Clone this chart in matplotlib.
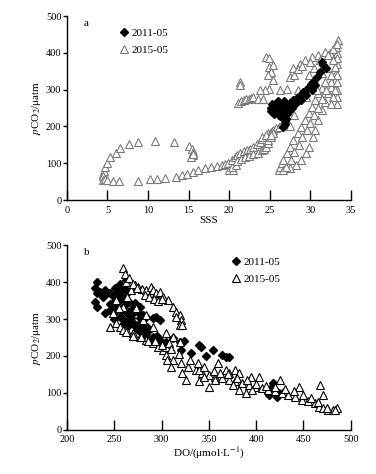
import matplotlib
matplotlib.use("Agg")
import matplotlib.pyplot as plt
from matplotlib.lines import Line2D

plt.rcParams["font.family"] = ["Liberation Serif", "DejaVu Serif"]
plt.rcParams["mathtext.fontset"] = "stix"

# ---------------------------------------------------------------------------
# Panel a: SSS vs pCO2
# ---------------------------------------------------------------------------
sss_2015 = [
    4.5, 4.6, 4.5, 4.7, 4.9, 5.3, 6.0, 6.6, 7.6, 8.8, 10.9, 13.2, 15.0, 15.4, 15.6, 15.5, 15.3, 15.6,
    4.5, 4.7, 5.0, 5.7, 6.4, 8.8, 10.3, 11.1, 12.1, 13.5, 14.2, 14.8, 15.6, 16.2, 17.0, 17.8, 18.5,
    19.1, 19.5, 19.9, 20.0, 20.5, 20.3, 20.8,
    20.4, 20.7, 21.0, 21.3, 21.8, 22.2, 22.6, 23.0, 23.4, 23.8, 24.1, 24.4, 24.8, 25.1, 25.4, 25.8,
    26.1, 26.5,
    21.0, 21.5, 22.0, 22.5, 23.0, 23.6, 24.0, 24.3, 24.6, 24.8, 24.8, 25.1, 25.4, 24.0, 24.6, 25.2,
    26.1, 26.3, 26.5, 26.7, 27.1, 27.5, 27.9, 28.5, 28.9, 29.3, 29.8, 30.2, 30.6, 31.0, 31.4,
    26.7, 27.5, 28.3, 28.9, 29.5, 29.9, 30.4, 30.6, 31.0, 31.4, 31.8, 32.2, 32.6, 33.0, 33.2,
    27.0, 27.6, 28.0, 28.6, 29.0, 29.6, 30.0, 30.5, 31.0, 31.5, 32.0, 32.5,
    33.3, 33.3, 33.3, 33.3, 33.3, 33.3, 33.3, 33.4, 33.1, 33.3, 33.2, 32.8, 32.4, 31.8, 31.0, 30.2,
    29.3, 28.7, 27.9, 27.5, 27.1, 26.3, 32.0, 32.5, 31.5, 30.5, 29.8,
    24.6, 24.9, 24.9, 25.4, 25.2, 24.8, 25.4, 24.9, 24.4, 23.8, 21.3, 21.3,
    21.1, 21.4, 21.8, 22.1, 22.4, 22.7, 23.0, 23.6, 24.2,
    28.0, 28.5, 29.0, 30.0, 31.2, 32.2, 32.8, 33.3, 33.0, 32.8, 32.5, 31.8, 30.8, 29.5, 28.5, 28.0,
    27.5,
]
pco2_2015_a = [
    72, 80, 65, 90, 100, 118, 129, 142, 151, 158, 161, 157, 147, 140, 130, 122, 118, 126,
    54, 58, 54, 53, 53, 53, 57, 57, 59, 63, 68, 72, 77, 82, 86, 91, 93,
    95, 97, 100, 82, 82, 90, 95,
    109, 118, 122, 127, 132, 136, 140, 145, 152, 159, 165, 172, 181, 186, 190, 195,
    199, 206,
    105, 112, 118, 120, 124, 128, 135, 140, 145, 155, 163, 172, 181, 172, 178, 176,
    82, 91, 100, 109, 127, 145, 163, 181, 199, 217, 236, 254, 272, 290, 305,
    82, 86, 95, 109, 127, 145, 172, 190, 217, 245, 267, 290, 308, 326, 344,
    90, 110, 130, 150, 170, 190, 210, 230, 250, 275, 300, 320,
    260, 280, 300, 320, 340, 371, 399, 435, 362, 385, 415, 380, 399, 403, 394, 390,
    380, 371, 358, 335, 303, 299, 360, 340, 345, 360, 340,
    390, 385, 362, 367, 349, 340, 326, 303, 299, 299, 322, 312,
    263, 268, 272, 275, 276, 278, 279, 276, 274,
    340, 355, 365, 375, 380, 395, 410, 425, 300, 280, 260, 320, 300, 280, 300, 230,
    200,
]
sss_2011 = [
    25.2, 25.4, 25.6, 25.9, 26.0, 26.3, 26.5, 26.7, 26.9, 27.0, 27.2, 27.5, 27.9, 28.2, 28.5, 28.8,
    29.1, 29.5, 29.8, 30.1, 30.4, 30.8, 31.2, 31.6, 31.4, 32.0, 26.7, 26.9, 26.7, 26.1, 25.6, 27.1,
    27.7, 28.3, 28.9, 29.5, 30.2, 30.6, 26.4, 26.0, 25.8,
    25.3, 25.5, 25.8, 26.2, 26.6, 27.3, 27.6, 26.8, 25.1, 26.3, 27.0, 26.9,
]
pco2_2011_a = [
    250, 245, 255, 254, 240, 258, 245, 254, 262, 250, 240, 263, 272, 268, 281, 285,
    294, 300, 308, 315, 322, 335, 349, 367, 376, 360, 199, 208, 226, 231, 240, 235,
    249, 263, 272, 285, 299, 312, 262, 268, 262,
    260, 235, 248, 250, 238, 255, 258, 270, 242, 228, 220, 215,
]

# ---------------------------------------------------------------------------
# Panel b: DO vs pCO2
# ---------------------------------------------------------------------------
do_2011 = [
    231.5, 229.7, 231.5, 229.7, 231.5, 235, 240, 242, 238.5, 240, 245.5, 250.7, 256, 259, 263, 270,
    273, 277, 284, 291, 298, 305, 312, 319, 324, 320.6, 331, 340, 341.6, 347, 354, 364, 368, 371,
    250.7, 254, 258, 261, 266, 272, 277, 270, 263, 258, 268, 277, 284, 291, 298, 294, 285, 287,
    256, 262, 266, 270, 275, 280, 252, 248,
    410, 416.8, 420, 424, 414, 422, 418,
    245, 250, 255, 260, 265, 270, 275, 280, 260, 264, 268, 245, 250, 260, 265, 275, 280, 285, 290,
    295,
]
pco2_2011_b = [
    401, 383, 369, 347, 333, 374, 378, 369, 360, 315, 324, 320, 306, 300, 293, 288,
    279, 270, 261, 252, 243, 239, 248, 239, 241, 216, 207, 230, 225, 200, 216, 203, 198, 196,
    383, 374, 360, 351, 347, 342, 333, 315, 315, 324, 302, 302, 306, 302, 297, 306, 279, 270,
    396, 405, 380, 290, 285, 275, 330, 340,
    108, 117, 108, 99, 95, 90, 126,
    370, 360, 350, 335, 320, 330, 320, 310, 380, 370, 390, 340, 300, 290, 280, 270, 260, 250, 245,
    255,
]
do_2015 = [
    259.4, 261, 265, 268, 272, 275, 279, 284, 289, 291, 294, 298, 301, 307, 312, 315, 319, 320.6,
    319, 322, 315,
    252, 256, 259, 264, 270, 277, 284, 291, 296, 301, 305, 312, 320.6, 327.6, 336, 343, 350, 357,
    364, 371, 378, 385, 392, 399, 406, 413, 420, 427, 434, 441, 448, 455, 462, 466, 471, 476, 481,
    485,
    305, 306, 310, 322, 326, 340, 340, 345, 350, 357, 360, 368, 371, 378, 382, 394, 403, 425.5, 445,
    467.8, 471, 375, 382, 389, 396,
    249, 245.5, 252, 259, 263, 268, 273, 280.4, 284, 291, 305, 312, 308, 319,
    262, 266, 270, 274, 282, 287, 292, 296, 300, 255, 262, 270, 278, 286, 293, 300, 310, 318, 330,
    338, 345, 355, 362, 370, 380, 390, 400, 410, 420, 430, 440, 450, 458, 465, 475, 483,
]
pco2_2015_b = [
    437, 423, 405, 396, 392, 387, 380, 378, 387, 378, 369, 374, 360, 351, 333, 320, 311, 297,
    284, 284, 306,
    288, 279, 270, 268, 261, 252, 243, 234, 225, 216, 203, 189, 180, 171, 162, 153, 149, 144,
    140, 135, 131, 126, 122, 117, 113, 108, 104, 99, 95, 90, 81, 77, 72, 63, 59, 54, 54,
    59,
    225, 189, 171, 153, 135, 131, 162, 144, 117, 135, 180, 162, 153, 162, 153, 144, 144, 135, 117,
    122, 95, 122, 108, 99, 108,
    315, 279, 351, 333, 360, 378, 329, 297, 311, 279, 261, 252, 234, 239,
    400, 410, 395, 385, 365, 360, 355, 350, 355, 330, 265, 255, 250, 240, 240, 230, 220, 205, 190,
    180, 170, 160, 155, 150, 140, 135, 125, 120, 115, 110, 105, 95, 85, 75, 60, 55,
]

fig = plt.figure(figsize=(3.76, 4.74), dpi=100)
ax_a = fig.add_axes([0.178, 0.578, 0.755, 0.388])
ax_b = fig.add_axes([0.178, 0.093, 0.755, 0.390])

tri_kw = dict(marker="^", linestyle="none", markersize=5.2, markerfacecolor="white",
              markeredgewidth=0.8)
dia_kw = dict(marker="D", linestyle="none", markersize=3.8, color="black")

# panel a: triangles underneath, diamonds on top
ax_a.plot(sss_2015, pco2_2015_a, markeredgecolor="#7a7a7a", **tri_kw)
ax_a.plot(sss_2011, pco2_2011_a, **dia_kw)
ax_a.set_xlim(0, 35)
ax_a.set_ylim(0, 500)
ax_a.set_xticks(range(0, 36, 5))
ax_a.set_yticks(range(0, 501, 100))
ax_a.set_xlabel("SSS", fontsize=8, labelpad=1)
ax_a.text(0.06, 0.985, "a", transform=ax_a.transAxes, fontsize=8, va="top")
handles_a = [Line2D([], [], color="black", **{k: v for k, v in dia_kw.items() if k != "color"}),
             Line2D([], [], markeredgecolor="#7a7a7a", **tri_kw)]
ax_a.legend(handles_a, ["2011-05", "2015-05"], loc="upper left", bbox_to_anchor=(0.15, 0.99),
            frameon=False, fontsize=8, handlelength=0.8, handletextpad=0.3, labelspacing=0.7)

# panel b
ax_b.plot(do_2011, pco2_2011_b, **dia_kw)
ax_b.plot(do_2015, pco2_2015_b, markeredgecolor="black", **tri_kw)
ax_b.set_xlim(200, 500)
ax_b.set_ylim(0, 500)
ax_b.set_xticks(range(200, 501, 50))
ax_b.set_yticks(range(0, 501, 100))
ax_b.set_xlabel(r"DO/(μmol·L$^{-1}$)", fontsize=8, labelpad=1)
ax_b.text(0.06, 0.985, "b", transform=ax_b.transAxes, fontsize=8, va="top")
handles_b = [Line2D([], [], color="black", **{k: v for k, v in dia_kw.items() if k != "color"}),
             Line2D([], [], markeredgecolor="black", **tri_kw)]
ax_b.legend(handles_b, ["2011-05", "2015-05"], loc="upper left", bbox_to_anchor=(0.545, 0.99),
            frameon=False, fontsize=8, handlelength=0.8, handletextpad=0.3, labelspacing=0.7)

for ax in (ax_a, ax_b):
    ax.spines["top"].set_visible(False)
    ax.spines["right"].set_visible(False)
    ax.spines["left"].set_linewidth(1.0)
    ax.spines["bottom"].set_linewidth(1.0)
    ax.tick_params(axis="x", direction="in", length=7, width=1.0, labelsize=7.5, pad=4)
    ax.tick_params(axis="y", direction="out", length=3, width=1.0, labelsize=7.5, pad=1)
    ax.set_ylabel(r"$\mathit{p}$CO$_2$/μatm", fontsize=8, labelpad=2)

fig.savefig("out.png", dpi=100)
